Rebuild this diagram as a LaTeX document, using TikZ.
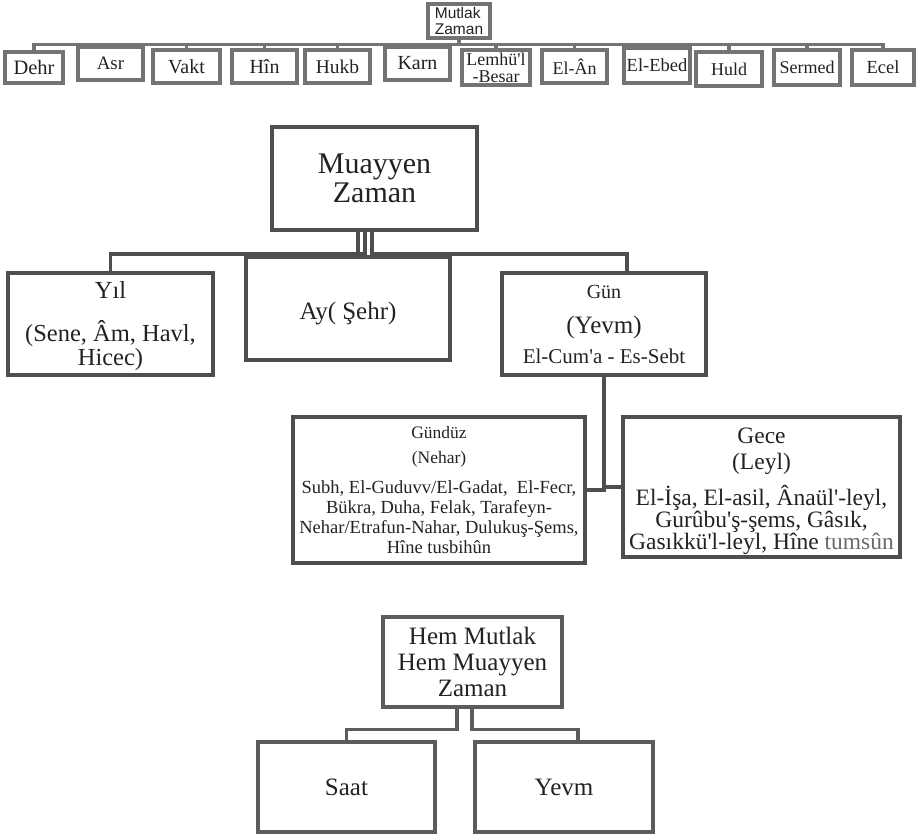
\documentclass[tikz,border=0pt]{standalone}
\usepackage{fontspec}
\setmainfont{Liberation Serif}
\newfontfamily\sansf{Liberation Sans}
\newcommand{\apo}{\textquotesingle}
\newcommand{\fsz}[2]{\fontsize{#1}{#2}\selectfont}
\definecolor{topgray}{HTML}{737373}
\definecolor{midgray}{HTML}{4E4E4E}
\definecolor{botgray}{HTML}{5C5C5C}
\definecolor{txt}{HTML}{222222}
\definecolor{tumgray}{HTML}{6A6A6A}
\begin{document}
\begin{tikzpicture}[x=1pt,y=-1pt,
  tbox/.style={draw=topgray, line width=3.2pt, inner sep=0pt, text=txt, align=center, font=\fsz{19}{19}},
  mbox/.style={draw=midgray, line width=3.6pt, inner sep=0pt, text=txt, align=center},
  bbox/.style={draw=botgray, line width=3.3pt, inner sep=0pt, text=txt, align=center},
  tcon/.style={draw=topgray, line width=3.2pt},
  mcon/.style={draw=midgray, line width=3.6pt},
  bcon/.style={draw=botgray, line width=3.3pt}]
\useasboundingbox (0,0) rectangle (917,838);

% ---------- Mutlak Zaman ----------
\node[tbox, align=left, font=\sansf\fsz{15.5}{16.5}, minimum width=62pt, minimum height=34pt] (mut) at (459,21) {Mutlak\\Zaman};
\node[tbox, font=\fsz{20.5}{20}, minimum width=58pt, minimum height=31pt] (dehr) at (34,67.5) {Dehr};
\node[tbox, minimum width=65pt, minimum height=33pt] (asr) at (110.5,63.5) {Asr};
\node[tbox, font=\fsz{20}{20}, minimum width=67pt, minimum height=33pt] (vakt) at (186.5,66.5) {Vakt};
\node[tbox, font=\fsz{20}{20}, minimum width=65pt, minimum height=33pt] (hin) at (264.5,66.5) {Hîn};
\node[tbox, font=\fsz{19.5}{20}, minimum width=65pt, minimum height=33pt] (hukb) at (337.5,66.5) {Hukb};
\node[tbox, font=\fsz{20}{20}, minimum width=65pt, minimum height=33pt] (karn) at (417.5,63.5) {Karn};
\node[tbox, font=\fsz{18}{17}, minimum width=68pt, minimum height=35pt] (lemhu) at (496,67.5) {Lemhü\apo l\\-Besar};
\node[tbox, font=\fsz{18}{18}, minimum width=65pt, minimum height=33pt] (elan) at (574.5,66.5) {El-Ân};
\node[tbox, font=\fsz{18.5}{18}, minimum width=66pt, minimum height=35pt] (elebed) at (657,65.5) {El-Ebed};
\node[tbox, font=\fsz{18}{18}, minimum width=66pt, minimum height=34pt] (huld) at (729,69) {Huld};
\node[tbox, font=\fsz{18}{18}, minimum width=66pt, minimum height=35pt] (sermed) at (807,67.5) {Sermed};
\node[tbox, font=\fsz{18.5}{18}, minimum width=62pt, minimum height=35pt] (ecel) at (883,67.5) {Ecel};

\foreach \c in {dehr,asr,vakt,hin,hukb,karn,lemhu,elan,elebed,huld,sermed,ecel}
  \draw[tcon] (mut.south) -- ++(0,5) -| (\c.north);

% ---------- Muayyen Zaman ----------
\node[mbox, font=\fsz{30}{29}, minimum width=205pt, minimum height=103pt] (muay) at (374.5,178.5) {Muayyen\\Zaman};
\node[mbox, font=\fsz{24.5}{24}, minimum width=205pt, minimum height=102pt] (yil) at (110.5,324) {\rule{0pt}{21pt}Yıl\\[19pt](Sene, Âm, Havl,\\Hicec)};
\node[mbox, font=\fsz{25}{25}, minimum width=204pt, minimum height=103pt] (ay) at (348,308.5) {\rule{0pt}{27pt}Ay( Şehr)};
\node[mbox, font=\fsz{21}{30}, minimum width=204pt, minimum height=102pt] (gun) at (604,324) {{\fsz{20}{20}Gün}\\[5pt]{\fsz{25}{25}(Yevm)}\\El-Cum\apo a - Es-Sebt};

\draw[mcon] ([xshift=-16.5pt]muay.south) -- ++(0,22) -| (yil.north);
\draw[mcon] ([xshift=-9.5pt]muay.south) -- ++(0,22) -| (ay.north);
\draw[mcon] ([xshift=-2.5pt]muay.south) -- ++(0,22) -| ([xshift=23pt]gun.north);

\node[mbox, font=\fsz{18.5}{20}, minimum width=292pt, minimum height=146pt] (gunduz) at (439,490)
  {{\fsz{17.5}{17.5}Gündüz}\\[5pt]{\fsz{17.5}{17.5}(Nehar)}\\[10pt]Subh, El-Guduvv/El-Gadat,~ El-Fecr,\\Bükra, Duha, Felak, Tarafeyn-\\Nehar/Etrafun-Nahar, Dulukuş-Şems,\\Hîne tusbihûn};
\node[mbox, font=\fsz{23.5}{22}, minimum width=277pt, minimum height=140pt] (gece) at (761.5,487)
  {\rule{0pt}{24pt}Gece\\[4pt](Leyl)\\[10pt]El-İşa, El-asil, Ânaül\apo-leyl,\\Gurûbu\apo ş-şems, Gâsık,\\Gasıkkü\apo l-leyl, Hîne {\color{tumgray}tumsûn}};

\draw[mcon] (gun.south) |- (gunduz.east);
\draw[mcon] (gun.south) |- (gece.west);

% ---------- Hem Mutlak Hem Muayyen Zaman ----------
\node[bbox, font=\fsz{25}{26}, minimum width=179pt, minimum height=90pt] (hem) at (472.5,662) {Hem Mutlak\\Hem Muayyen\\Zaman};
\node[bbox, font=\fsz{25}{25}, minimum width=177pt, minimum height=90pt] (saat) at (346.5,787) {Saat};
\node[bbox, font=\fsz{25}{25}, minimum width=178pt, minimum height=90pt] (yevm) at (564,787) {Yevm};

\draw[bcon] ([xshift=-15.5pt]hem.south) -- ++(0,21) -| (saat.north);
\draw[bcon] ([xshift=-0.5pt]hem.south) -- ++(0,21) -| ([xshift=14pt]yevm.north);
\end{tikzpicture}
\end{document}
